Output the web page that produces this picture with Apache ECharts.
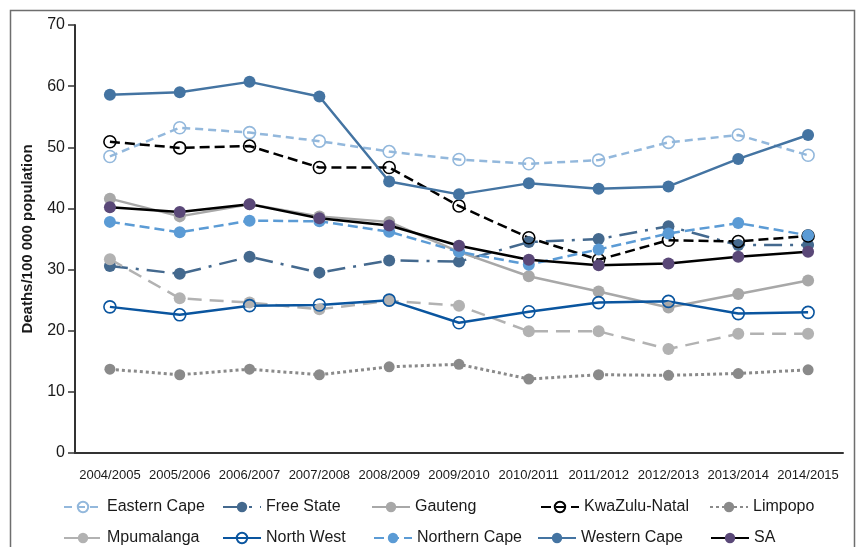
<!DOCTYPE html>
<html>
<head>
<meta charset="utf-8">
<script src="https://cdn.jsdelivr.net/npm/echarts@6/dist/echarts.min.js"></script>
<style>
html,body{margin:0;padding:0;background:#fff;}
#chart{width:857px;height:547px;}
</style>
</head>
<body>
<div id="chart"></div>
<script>
var categories = ['2004/2005','2005/2006','2006/2007','2007/2008','2008/2009','2009/2010','2010/2011','2011/2012','2012/2013','2013/2014','2014/2015'];
var yTicks = [0, 10, 20, 30, 40, 50, 60, 70];

var easternCape  = [48.5, 53.2, 52.4, 51.0, 49.3, 48.0, 47.3, 47.9, 50.8, 52.0, 48.7];
var freeState    = [30.6, 29.3, 32.1, 29.5, 31.5, 31.3, 34.5, 35.0, 37.1, 34.0, 34.0];
var gauteng      = [41.6, 38.7, 40.7, 38.7, 37.8, 32.9, 28.9, 26.4, 23.8, 26.0, 28.2];
var kwaZuluNatal = [50.9, 49.9, 50.2, 46.7, 46.7, 40.4, 35.2, 31.6, 34.8, 34.6, 35.5];
var limpopo      = [13.7, 12.8, 13.7, 12.8, 14.1, 14.5, 12.1, 12.8, 12.7, 13.0, 13.6];
var mpumalanga   = [31.7, 25.3, 24.6, 23.5, 24.9, 24.1, 19.9, 19.9, 17.0, 19.5, 19.5];
var northWest    = [23.9, 22.6, 24.1, 24.2, 25.0, 21.3, 23.1, 24.6, 24.8, 22.8, 23.0];
var northernCape = [37.8, 36.1, 38.0, 37.9, 36.2, 32.9, 30.8, 33.3, 35.9, 37.6, 35.6];
var westernCape  = [58.6, 59.0, 60.7, 58.3, 44.4, 42.3, 44.1, 43.2, 43.6, 48.1, 52.0];
var saTotal      = [40.2, 39.4, 40.7, 38.4, 37.2, 33.9, 31.6, 30.7, 31.0, 32.1, 32.9];

var FONT = '"Liberation Sans", Arial, sans-serif';

function mk(name, data, lineColor, dash, width, markColor, hollow, symSize) {
  return {
    name: name,
    type: 'line',
    data: data,
    symbol: 'circle',
    symbolSize: symSize || 12,
    showSymbol: true,
    lineStyle: { color: lineColor, width: width, type: dash },
    itemStyle: hollow
      ? { color: 'rgba(255,255,255,0)', borderColor: markColor, borderWidth: 1.6 }
      : { color: markColor, borderWidth: 0 },
    emphasis: { disabled: true },
    animation: false
  };
}

var series = [
  mk('Eastern Cape',  easternCape,  '#93b8dc', [8, 5], 2.5, '#93b8dc', true),
  mk('Free State',    freeState,    '#44698e', [18, 8, 3, 8], 2.5, '#44698e', false),
  mk('Gauteng',       gauteng,      '#a8a8a8', 'solid', 2.5, '#a8a8a8', false),
  mk('KwaZulu-Natal', kwaZuluNatal, '#000000', [10, 5], 2.5, '#000000', true),
  mk('Limpopo',       limpopo,      '#8a8a8a', [3, 3], 3, '#8a8a8a', false, 11),
  mk('Mpumalanga',    mpumalanga,   '#b2b2b2', [14, 8], 2.5, '#b2b2b2', false),
  mk('North West',    northWest,    '#0a559f', 'solid', 2.5, '#0a559f', true),
  mk('Northern Cape', northernCape, '#5b9bd5', [10, 5], 2.5, '#5b9bd5', false),
  mk('Western Cape',  westernCape,  '#4474a2', 'solid', 2.5, '#4474a2', false),
  mk('SA',            saTotal,      '#000000', 'solid', 2.5, '#5a4878', false)
];

var legendPos = [
  ['Eastern Cape', 63, 499], ['Free State', 222, 499], ['Gauteng', 371, 499], ['KwaZulu-Natal', 540, 499], ['Limpopo', 709, 499],
  ['Mpumalanga', 63, 530], ['North West', 222, 530], ['Northern Cape', 373, 530], ['Western Cape', 537, 530], ['SA', 710, 530]
];
var legends = legendPos.map(function (p) {
  return {
    data: [p[0]],
    left: p[1],
    top: p[2],
    padding: 0,
    itemWidth: 38,
    itemHeight: 13,
    selectedMode: false,
    textStyle: { fontFamily: FONT, fontSize: 16, color: '#1a1a1a' }
  };
});

var chart = echarts.init(document.getElementById('chart'), null, { renderer: 'canvas' });
chart.setOption({
  backgroundColor: '#ffffff',
  animation: false,
  graphic: [{
    type: 'rect',
    shape: { x: 10.5, y: 10.5, width: 844, height: 600 },
    style: { fill: 'none', stroke: '#6e6e6e', lineWidth: 1.5 },
    silent: true
  }],
  grid: { left: 75, right: 14, top: 25, bottom: 94, containLabel: false },
  legend: legends,
  xAxis: {
    type: 'category',
    data: categories,
    boundaryGap: true,
    axisLine: { show: true, lineStyle: { color: '#333333', width: 2 } },
    axisTick: { show: false },
    axisLabel: { interval: 0, margin: 16, fontFamily: FONT, fontSize: 13, color: '#1a1a1a' },
    splitLine: { show: false }
  },
  yAxis: {
    type: 'value',
    min: yTicks[0],
    max: yTicks[yTicks.length - 1],
    interval: 10,
    name: 'Deaths/100 000 population',
    nameLocation: 'middle',
    nameGap: 40,
    nameTextStyle: { fontFamily: FONT, fontSize: 15, fontWeight: 'bold', color: '#1a1a1a' },
    axisLine: { show: true, lineStyle: { color: '#333333', width: 2 } },
    axisTick: { show: true, length: 7, lineStyle: { color: '#333333', width: 1.5 } },
    axisLabel: { margin: 10, fontFamily: FONT, fontSize: 16, color: '#1a1a1a' },
    splitLine: { show: false }
  },
  series: series
});
</script>
</body>
</html>
